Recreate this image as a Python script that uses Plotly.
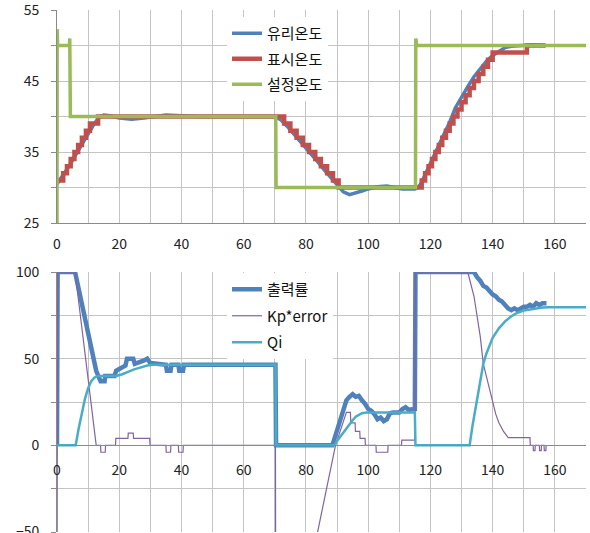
import plotly.graph_objects as go

# ---------------- top chart data (temperatures) ----------------
glass_t = [0, 2, 4, 6, 8, 10, 12, 13, 14, 15, 17, 20, 24, 28, 31, 35, 40, 45, 70,
           72, 74, 76, 78, 80, 82, 84, 86, 88, 90, 92, 94, 96, 98, 100, 103, 106, 109, 111, 115,
           116, 117, 118, 120, 122, 124, 126, 128, 130, 132, 134, 136, 138, 140, 142, 144, 146, 150, 153, 157]
glass_v = [30.5, 31.7, 33.1, 34.6, 36.1, 37.6, 39.0, 39.6, 40.0, 40.2, 40.1, 39.8, 39.6, 39.8, 40.0, 40.2, 40.1, 40.0, 40.0,
           39.5, 38.6, 37.6, 36.6, 35.6, 34.5, 33.5, 32.4, 31.4, 30.3, 29.4, 29.0, 29.2, 29.5, 29.8, 30.1, 30.2, 30.0, 29.8, 29.8,
           30.0, 30.6, 31.5, 33.3, 35.3, 37.2, 39.0, 41.2, 42.8, 44.2, 45.6, 46.8, 47.8, 48.6, 49.2, 49.7, 49.9, 50.0, 50.1, 50.0]

disp_t = [0, 2.0, 3.2, 4.4, 5.6, 6.8, 8.0, 9.3, 10.6, 13.2,
          73.0, 75.0, 77.0, 79.0, 81.0, 83.0, 84.8, 86.8, 88.7, 90.5,
          117.2, 118.3, 119.4, 120.5, 121.6, 122.7, 123.8, 125.0, 126.2, 127.4,
          128.7, 130.0, 131.3, 132.6, 134.0, 135.5, 137.0, 138.5, 140.0, 151.0, 157]
disp_v = [31, 32, 33, 34, 35, 36, 37, 38, 39, 40,
          39, 38, 37, 36, 35, 34, 33, 32, 31, 30,
          31, 32, 33, 34, 35, 36, 37, 38, 39, 40,
          41, 42, 43, 44, 45, 46, 47, 48, 49, 50, 50]

set_t = [0, 0.05, 0.2, 4.0, 4.1, 4.3, 70.3, 70.4, 115.2, 115.3, 115.6, 170]
set_v = [25, 52.3, 50, 50, 51, 40, 40, 30, 30, 51, 50, 50]

# ---------------- bottom chart data (controller) ----------------
out_t = [0, 0.2, 5.8, 7, 8, 9, 10, 11, 12, 12.6, 13.5, 14, 15.3, 15.5, 18.5, 19, 20, 21, 22, 22.5,
         24.5, 25, 27, 28, 29, 30, 35, 35.3, 36.5, 36.8, 39, 39.3, 40.5, 40.8, 70.2, 70.4,
         88.5, 89, 90, 91, 92, 93, 94, 95, 96, 97, 98, 99, 100, 101, 102, 103, 104, 105, 106,
         107, 108, 110, 111, 112, 113, 115, 115.2, 134, 135, 136, 137, 138, 139, 140, 141, 142,
         143, 144, 145, 146, 147, 148, 149, 150, 151, 152, 153, 154, 155, 156, 157.3]
out_v = [0, 100, 100, 90, 81, 73, 64, 56, 47, 43, 39, 37, 37, 40, 40, 43, 44, 45, 46, 50,
         50, 47, 48, 49, 50, 47.5, 46.5, 43, 43, 46.5, 46.5, 43, 43, 46.5, 46.5, 0,
         0, 3, 9, 16, 22, 26, 28, 29.5, 28, 28.5, 26, 24, 21, 20, 18, 15, 16, 14, 15,
         18.5, 19, 19, 21, 22, 20.5, 21, 100, 100, 97, 95, 92, 91, 89, 87, 86, 84,
         83, 81, 79, 78, 79, 78, 79, 80, 80, 81, 80, 82, 81, 82, 82]

kp_t = [0, 0.2, 5.8, 12.6, 14.0, 14.1, 15.5, 15.6, 18.8, 18.9, 22.8, 22.9, 24.5, 24.6, 29.8, 29.9,
        35.0, 35.1, 36.5, 36.6, 39.0, 39.1, 40.5, 40.6, 70.2, 70.3, 78.0, 89.5, 93.0, 94.3, 94.4,
        95.8, 95.9, 97.3, 97.4, 99.0, 99.1, 102.5, 102.6, 106.3, 106.4, 110.7, 110.8, 115.0, 115.2,
        132.0, 134.0, 136.0, 137.0, 138.5, 140.0, 141.0, 142.0, 143.5, 145.0, 152.0, 152.1, 153.0,
        153.1, 153.6, 153.7, 155.0, 155.1, 155.6, 155.7, 156.5, 156.6, 157.1, 157.2]
kp_v = [-100, 100, 100, 0, 0, -4, -4, 0, 0, 4, 4, 7, 7, 4, 4, 0,
        0, -4, -4, 0, 0, -4, -4, 0, 0, -100, -100, 0, 19, 19, 13,
        13, 8, 8, 4, 4, 0, 0, -4, -4, 0, 0, 3, 3, 100,
        100, 86, 63, 47, 36, 24, 18, 13, 8, 4.5, 4.5, 0, 0,
        -3, -3, 0, 0, -3, -3, 0, 0, -3, -3, 0]

qi_t = [0, 6.0, 7, 8, 9, 10, 11, 12, 13, 19, 21, 23, 25, 27, 29, 31, 70.2, 70.4,
        89.2, 90, 91, 92, 93, 94, 95, 96, 97, 98, 99.5, 115.0, 115.2,
        132.6, 133.5, 134.8, 136, 137, 138, 139, 140, 142, 144, 146, 148, 150, 152, 154, 156, 158, 170]
qi_v = [0, 0, 10, 19, 27, 33, 37, 39, 40, 40, 41, 42.5, 44, 45, 46, 46.5, 46.5, 0,
        0, 2.5, 5, 7.5, 10, 12.5, 14.5, 16.5, 17.5, 18.5, 19, 19, 0,
        0, 11, 24, 37, 47, 53, 58, 62, 67.5, 71.5, 74.5, 76.5, 77.8, 78.5, 79.2, 79.5, 79.7, 79.7]

names_top = ["유리온도", "표시온도", "설정온도"]
names_bot = ["출력률", "Kp*error", "Qi"]

for a, b in [(glass_t, glass_v), (disp_t, disp_v), (set_t, set_v), (out_t, out_v), (kp_t, kp_v), (qi_t, qi_v)]:
    assert len(a) == len(b), (len(a), len(b))

# ---------------- layout constants ----------------
W, H = 590, 533
ML, MR = 57, 4
top_dom = [1 - 223 / H, 1 - 10 / H]
bot_dom = [1 - 532 / H, 1 - 272 / H]
bot_y_range = [-50, 100]
zero_pos = bot_dom[0] + (bot_dom[1] - bot_dom[0]) * (0 - bot_y_range[0]) / (bot_y_range[1] - bot_y_range[0])

FONT = "Noto Sans CJK KR, Noto Sans, sans-serif"
GRID = "#c4c4c4"
AXIS = "#8a8a8a"

fig = go.Figure()
fig.add_trace(go.Scatter(x=glass_t, y=glass_v, name=names_top[0], mode="lines",
                         line=dict(color="#4F81BD", width=3.5), xaxis="x", yaxis="y",
                         legend="legend", legendgroup="a"))
fig.add_trace(go.Scatter(x=disp_t, y=disp_v, name=names_top[1], mode="lines",
                         line=dict(color="#C0504D", width=4.5, shape="hv"), xaxis="x", yaxis="y",
                         legend="legend", legendgroup="b"))
fig.add_trace(go.Scatter(x=set_t, y=set_v, name=names_top[2], mode="lines",
                         line=dict(color="#9BBB59", width=3.5), xaxis="x", yaxis="y",
                         legend="legend", legendgroup="c"))

fig.add_trace(go.Scatter(x=out_t, y=out_v, name=names_bot[0], mode="lines",
                         line=dict(color="#4F81BD", width=4.5), xaxis="x2", yaxis="y2",
                         legend="legend2", legendgroup="d"))
fig.add_trace(go.Scatter(x=kp_t, y=kp_v, name=names_bot[1], mode="lines",
                         line=dict(color="#8064A2", width=1.2), xaxis="x2", yaxis="y2",
                         legend="legend2", legendgroup="e"))
fig.add_trace(go.Scatter(x=qi_t, y=qi_v, name=names_bot[2], mode="lines",
                         line=dict(color="#4BACC6", width=2.5), xaxis="x2", yaxis="y2",
                         legend="legend2", legendgroup="f"))

xcommon = dict(range=[0, 170], tick0=0, dtick=20, showgrid=True, gridcolor=GRID, gridwidth=1,
               minor=dict(dtick=10, showgrid=True, gridcolor=GRID, gridwidth=1),
               showline=True, linecolor=AXIS, linewidth=1, zeroline=False, automargin=False,
               ticklabeloverflow="allow",
               tickfont=dict(size=14, color="#222"), ticks="", fixedrange=True)
ycommon = dict(showgrid=True, gridcolor=GRID, showline=True, linecolor=AXIS, zeroline=False,
               ticks="outside", ticklen=5, tickcolor=AXIS, automargin=False,
               ticklabeloverflow="allow", fixedrange=True,
               ticklabelstandoff=9, tickfont=dict(size=14, color="#222"))
fig.update_layout(
    width=W, height=H,
    margin=dict(l=ML, r=MR, t=0, b=0),
    paper_bgcolor="white", plot_bgcolor="white",
    font=dict(family=FONT, color="#111"),
    xaxis=dict(domain=[0, 1], anchor="y", ticklabelstandoff=8, **xcommon),
    yaxis=dict(domain=top_dom, anchor="x", range=[25, 55], tick0=25, dtick=10,
               minor=dict(dtick=5, showgrid=True, gridcolor=GRID, ticks="outside", ticklen=5, tickcolor=AXIS),
               **ycommon),
    xaxis2=dict(domain=[0, 1], anchor="free", position=zero_pos, ticklabelstandoff=12, **xcommon),
    yaxis2=dict(domain=bot_dom, anchor="x2", range=bot_y_range, tick0=-50, dtick=50,
                minor=dict(dtick=25, showgrid=True, gridcolor=GRID, ticks="outside", ticklen=5, tickcolor=AXIS),
                **ycommon),
    legend=dict(x=(227 - ML) / (W - ML - MR), y=1 - 17 / H, xanchor="left", yanchor="top",
                bgcolor="white", borderwidth=0, font=dict(size=15, color="#111"),
                tracegroupgap=3, itemwidth=30),
    legend2=dict(x=(227 - ML) / (W - ML - MR), y=1 - 273 / H, xanchor="left", yanchor="top",
                 bgcolor="white", borderwidth=0, font=dict(size=15, color="#111"),
                 tracegroupgap=4, itemwidth=30),
    showlegend=True,
)

fig.write_html("out.html", config={"displayModeBar": False},
               post_script="document.body.style.margin='0';document.body.style.overflow='hidden';")
